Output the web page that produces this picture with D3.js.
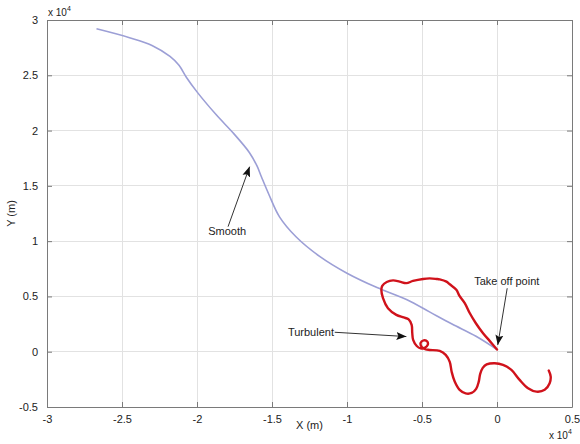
<!DOCTYPE html>
<html>
<head>
<meta charset="utf-8">
<script src="https://cdn.jsdelivr.net/npm/d3@7"></script>
<style>
  html, body { margin: 0; padding: 0; background: #fff; }
  svg { display: block; font-family: "Liberation Sans", Arial, sans-serif; }
</style>
</head>
<body>
<svg id="chart" width="580" height="444"></svg>
<script>
// Axis ticks (values in units of 1e4 m)
const xTicks = [-3, -2.5, -2, -1.5, -1, -0.5, 0, 0.5];
const yTicks = [-0.5, 0, 0.5, 1, 1.5, 2, 2.5, 3];

// Smooth trajectory (x, y) in 1e4 m
const smoothPath = [
  [-2.67, 2.92], [-2.45, 2.84], [-2.30, 2.77], [-2.18, 2.67], [-2.12, 2.59],
  [-2.07, 2.48], [-2.00, 2.35], [-1.87, 2.14], [-1.76, 1.98], [-1.65, 1.80],
  [-1.60, 1.68], [-1.57, 1.58], [-1.52, 1.42], [-1.45, 1.22], [-1.34, 1.04],
  [-1.18, 0.86], [-1.00, 0.71], [-0.80, 0.58], [-0.60, 0.47], [-0.45, 0.36],
  [-0.30, 0.25], [-0.14, 0.14], [0.00, 0.02]
];

// Turbulent trajectory from the take-off point (x, y) in 1e4 m
const turbulentPath = [
  [0.000, 0.020], [-0.049, 0.098], [-0.093, 0.167], [-0.142, 0.260], [-0.182, 0.350],
  [-0.215, 0.440], [-0.250, 0.505], [-0.271, 0.560], [-0.315, 0.610], [-0.337, 0.634],
  [-0.382, 0.654], [-0.404, 0.658], [-0.449, 0.663], [-0.493, 0.658], [-0.560, 0.640],
  [-0.604, 0.620], [-0.649, 0.634], [-0.693, 0.645], [-0.735, 0.631], [-0.765, 0.595],
  [-0.771, 0.559], [-0.760, 0.484], [-0.727, 0.393], [-0.671, 0.333], [-0.622, 0.310],
  [-0.589, 0.292], [-0.569, 0.242], [-0.565, 0.170], [-0.559, 0.107], [-0.535, 0.052],
  [-0.509, 0.030], [-0.482, 0.034], [-0.462, 0.061], [-0.465, 0.093], [-0.489, 0.102],
  [-0.509, 0.080], [-0.502, 0.043], [-0.475, 0.021], [-0.449, 0.016], [-0.382, 0.007],
  [-0.342, -0.029], [-0.315, -0.092], [-0.302, -0.183], [-0.282, -0.270], [-0.249, -0.345],
  [-0.209, -0.377], [-0.169, -0.373], [-0.139, -0.336], [-0.122, -0.273], [-0.112, -0.201],
  [-0.095, -0.146], [-0.069, -0.115], [-0.015, -0.104], [0.040, -0.119], [0.096, -0.165],
  [0.151, -0.255], [0.207, -0.330], [0.263, -0.361], [0.318, -0.345], [0.351, -0.285],
  [0.358, -0.225], [0.345, -0.171]
];

// Text annotations with arrows: label anchor, arrow tail, arrow tip (1e4 m)
const annotations = [
  { text: "Smooth", anchor: "middle", label: [-1.799, 1.092], tail: [-1.793, 1.131], tip: [-1.649, 1.674] },
  { text: "Take off point", anchor: "middle", label: [0.065, 0.640], tail: [0.068, 0.574], tip: [0.005, 0.061] },
  { text: "Turbulent", anchor: "end", label: [-1.087, 0.182], tail: [-1.082, 0.176], tip: [-0.604, 0.137] }
];

const margin = { left: 47, right: 8, top: 20, bottom: 37 };
const W = 580, H = 444;
const svg = d3.select("#chart");

const x = d3.scaleLinear().domain([-3, 0.5]).range([margin.left, W - margin.right]);
const y = d3.scaleLinear().domain([-0.5, 3]).range([H - margin.bottom, margin.top]);

const fmt = d => String(d).replace("-", "-");

// Grid
const grid = svg.append("g");
grid.selectAll("line.gx").data(xTicks.slice(1, -1)).join("line")
  .attr("x1", d => x(d)).attr("x2", d => x(d))
  .attr("y1", y(-0.5)).attr("y2", y(3))
  .attr("stroke", "#e2e2e2").attr("stroke-width", 1).attr("shape-rendering", "crispEdges");
grid.selectAll("line.gy").data(yTicks.slice(1, -1)).join("line")
  .attr("y1", d => y(d)).attr("y2", d => y(d))
  .attr("x1", x(-3)).attr("x2", x(0.5))
  .attr("stroke", "#e2e2e2").attr("stroke-width", 1).attr("shape-rendering", "crispEdges");

// Axes with inward ticks
const axisColor = "#7a7a7a";
function styleAxis(g) {
  g.select(".domain").attr("stroke", axisColor);
  g.selectAll(".tick line").attr("stroke", axisColor);
  g.selectAll(".tick text").attr("fill", "#222").attr("font-size", 11)
    .attr("font-family", "'Liberation Sans', Arial, sans-serif");
}
svg.append("g").attr("transform", `translate(0,${y(-0.5)})`)
  .call(d3.axisBottom(x).tickValues(xTicks).tickFormat(fmt).tickSizeInner(-5).tickSizeOuter(0).tickPadding(8))
  .call(styleAxis);
svg.append("g").attr("transform", `translate(0,${y(3)})`)
  .call(d3.axisTop(x).tickValues(xTicks).tickFormat("").tickSizeInner(-5).tickSizeOuter(0))
  .call(styleAxis);
svg.append("g").attr("transform", `translate(${x(-3)},0)`)
  .call(d3.axisLeft(y).tickValues(yTicks).tickFormat(fmt).tickSizeInner(-5).tickSizeOuter(0).tickPadding(9))
  .call(styleAxis);
svg.append("g").attr("transform", `translate(${x(0.5)},0)`)
  .call(d3.axisRight(y).tickValues(yTicks).tickFormat("").tickSizeInner(-5).tickSizeOuter(0))
  .call(styleAxis);

// Trajectories
const line = d3.line().x(d => x(d[0])).y(d => y(d[1])).curve(d3.curveCatmullRom.alpha(0.5));
svg.append("path").datum(smoothPath).attr("d", line)
  .attr("fill", "none").attr("stroke", "#9c9fd6").attr("stroke-width", 1.6);
svg.append("path").datum(turbulentPath).attr("d", line)
  .attr("fill", "none").attr("stroke", "#d0121b").attr("stroke-width", 2.4)
  .attr("stroke-linejoin", "round").attr("stroke-linecap", "round");

// Annotation arrows and labels
svg.append("defs").append("marker")
  .attr("id", "arrowhead").attr("viewBox", "0 0 10 10")
  .attr("refX", 10).attr("refY", 5)
  .attr("markerWidth", 10).attr("markerHeight", 10)
  .attr("markerUnits", "userSpaceOnUse").attr("orient", "auto")
  .append("path").attr("d", "M0,1 L10,5 L0,9 L2,5 Z").attr("fill", "#111");

const ann = svg.append("g");
ann.selectAll("line").data(annotations).join("line")
  .attr("x1", d => x(d.tail[0])).attr("y1", d => y(d.tail[1]))
  .attr("x2", d => x(d.tip[0])).attr("y2", d => y(d.tip[1]))
  .attr("stroke", "#333").attr("stroke-width", 1)
  .attr("marker-end", "url(#arrowhead)");
ann.selectAll("text").data(annotations).join("text")
  .attr("x", d => x(d.label[0])).attr("y", d => y(d.label[1]))
  .attr("text-anchor", d => d.anchor).attr("dominant-baseline", "central")
  .attr("font-size", 11).attr("fill", "#222")
  .text(d => d.text);

// Axis labels and exponent markers
svg.append("text").attr("x", x(-1.25)).attr("y", 429)
  .attr("text-anchor", "middle").attr("font-size", 11).attr("fill", "#222").text("X (m)");
svg.append("text").attr("transform", `translate(15,${y(1.25)}) rotate(-90)`)
  .attr("text-anchor", "middle").attr("font-size", 11).attr("fill", "#222").text("Y (m)");

function exponent(px, py) {
  const t = svg.append("text").attr("x", px).attr("y", py).attr("font-size", 10).attr("fill", "#222");
  t.append("tspan").text("x 10");
  t.append("tspan").attr("dy", -5).attr("font-size", 7).text("4");
}
exponent(48, 16);
exponent(549, 439);
</script>
</body>
</html>
